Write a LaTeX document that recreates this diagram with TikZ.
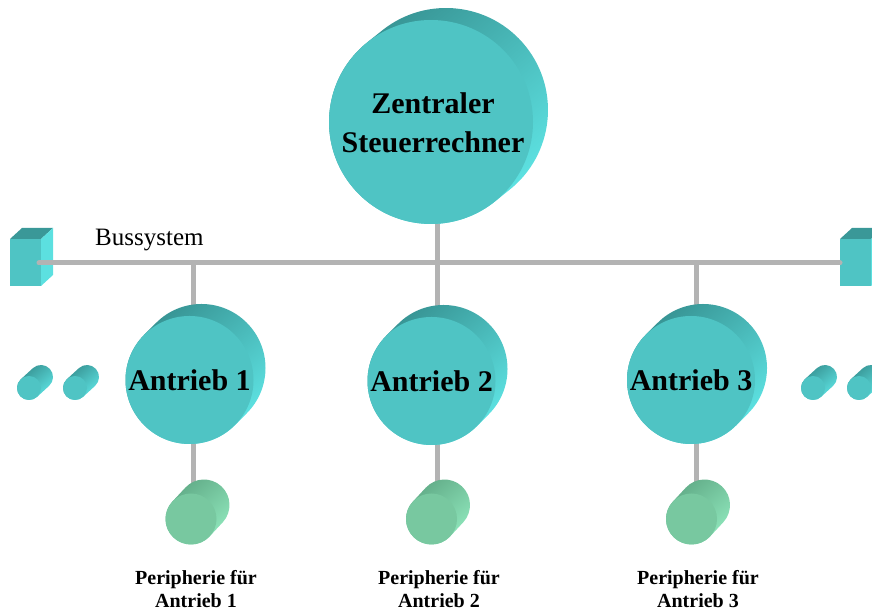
\documentclass[tikz,border=0pt]{standalone}
\usepackage{fontspec}
\setmainfont{Liberation Serif}
\usetikzlibrary{calc}
\definecolor{cyanfront}{HTML}{4FC4C4}
\definecolor{cyandark}{HTML}{358F8F}
\definecolor{cyanlight}{HTML}{60E8E8}
\definecolor{greenfront}{HTML}{78C8A0}
\definecolor{greendark}{HTML}{5FA985}
\definecolor{greenlight}{HTML}{92EABF}
\definecolor{cubetop}{HTML}{3A9898}
\definecolor{cubeside}{HTML}{5CE0E0}
\definecolor{buscol}{HTML}{B3B3B3}
\newcommand\mycylinder[7]{%
  \pgfmathsetmacro\tanga{atan2(#6,#5)-90}%
  \pgfmathsetmacro\tangb{\tanga+180}%
  \pgfmathsetmacro\tangc{\tanga+360}%
  \shade[top color=#7dark,bottom color=#7light,shading angle=40]
    (#2,#3) ++(\tanga:#4pt) -- ++(#5,#6)
    arc[start angle=\tanga,end angle=\tangb,radius=#4pt]
    -- ++(-#5,-#6)
    arc[start angle=\tangb,end angle=\tangc,radius=#4pt] -- cycle;
  \fill[#7front] (#2,#3) circle[radius=#4pt];
  \coordinate (#1) at (#2,#3);
}
\newcommand\mycube[2]{% #1 name, #2 left x
  \fill[cyanfront] (#2,326) rectangle ++(31,47);
  \fill[cubetop] (#2,373) -- ++(31,0) -- ++(12,11) -- ++(-31,0) -- cycle;
  \fill[cubeside] (#2+31,373) -- ++(12,11) -- ++(0,-47) -- ++(-12,-11) -- cycle;
  \coordinate (#1) at (#2+15.5,349.5);
}
\tikzset{
  busline/.style={draw=buscol,line width=5pt,line cap=round},
  drivetext/.style={font=\fontsize{30}{39}\selectfont\bfseries,align=center,inner sep=0pt,text=black},
  perilabel/.style={font=\fontsize{20}{23}\selectfont\bfseries,align=center,inner sep=0pt,anchor=north},
}
\begin{document}
\begin{tikzpicture}[x=1pt,y=1pt]
\useasboundingbox (0,0) rectangle (872,612);
\clip (0,0) rectangle (872,612);
% junction coordinates
\coordinate (busL) at (39,349);
\coordinate (busR) at (840,349);
\coordinate (j0) at (437,349);
\coordinate (j1) at (193,349);
\coordinate (j2) at (437,349);
\coordinate (j3) at (696,349);
\coordinate (cc) at (437,490);
\coordinate (d1c) at (193,232);
\coordinate (d2c) at (437,232);
\coordinate (d3c) at (696,232);
\coordinate (p1c) at (193,93);
\coordinate (p2c) at (437,93);
\coordinate (p3c) at (696,93);
% connectors (under shapes)
\draw[busline] (j0) -- (cc);
\draw[busline] (j1) -- (d1c) -- (p1c);
\draw[busline] (j2) -- (d2c) -- (p2c);
\draw[busline] (j3) -- (d3c) -- (p3c);
% central computer
\mycylinder{central}{431}{490}{102}{15}{12}{cyan}
% drives
\mycylinder{d1}{189.5}{232}{64}{12}{12}{cyan}
\mycylinder{d2}{431.5}{231}{64}{12}{12}{cyan}
\mycylinder{d3}{691}{232}{64}{12}{12}{cyan}
% peripherals
\mycylinder{p1}{191}{93}{25.5}{13}{14}{green}
\mycylinder{p2}{431.5}{93}{25.5}{13}{14}{green}
\mycylinder{p3}{691.5}{93}{25.5}{13}{14}{green}
% small cylinders
\mycylinder{s1}{29}{224}{12}{12}{11}{cyan}
\mycylinder{s2}{75}{224}{12}{12}{11}{cyan}
\mycylinder{s3}{813}{224}{12}{12}{11}{cyan}
\mycylinder{s4}{859}{224}{12}{12}{11}{cyan}
% cubes
\mycube{cubeL}{10}
\mycube{cubeR}{840}
% bus
\draw[busline] (busL) -- (busR);
\node[anchor=base west,inner sep=0pt,font=\fontsize{25}{30}\selectfont] (bus) at (95,366) {Bussystem};
% texts
\node[drivetext] (ct) at ($(central)+(2,-1)$) {Zentraler\\Steuerrechner};
\node[drivetext] (t1) at (d1) {Antrieb 1};
\node[drivetext] (t2) at (d2) {Antrieb 2};
\node[drivetext] (t3) at (d3) {Antrieb 3};
\node[perilabel] (l1) at (196,42) {Peripherie für\\Antrieb 1};
\node[perilabel] (l2) at (439,42) {Peripherie für\\Antrieb 2};
\node[perilabel] (l3) at (698,42) {Peripherie für\\Antrieb 3};
\end{tikzpicture}
\end{document}
